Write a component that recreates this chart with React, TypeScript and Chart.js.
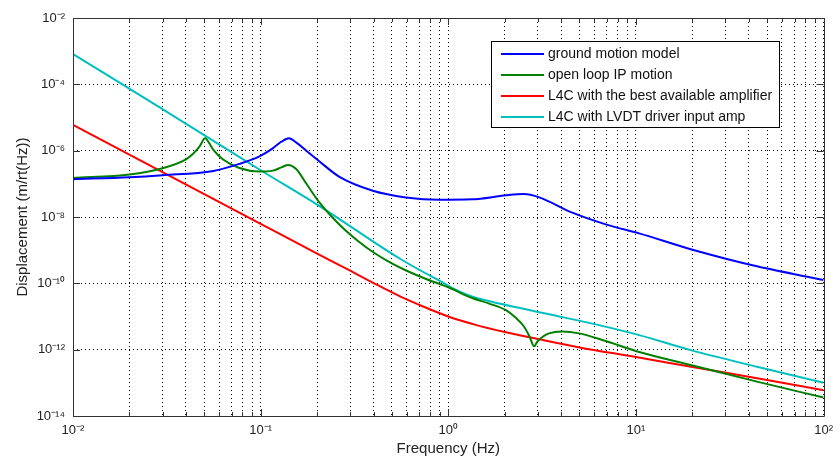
import React, { useEffect, useRef } from "react";
import { Chart, registerables } from "chart.js";

Chart.register(...registerables);

// ---------- data ----------
const seriesLabels = [
  "ground motion model",
  "open loop IP motion",
  "L4C with the best available amplifier",
  "L4C with LVDT driver input amp",
];
const seriesColors = ["#0000ff", "#008000", "#ff0000", "#00bfbf"];

const groundFreq = [0.01, 0.02, 0.03, 0.056, 0.077, 0.098, 0.116, 0.129, 0.1415, 0.155, 0.175, 0.206, 0.263, 0.396, 0.594, 0.895, 1.34, 2.03, 2.53, 3.05, 4.58, 6.9, 10.4, 19.8, 44.7, 100];
const groundVal = [1.38e-7, 1.58e-7, 1.82e-7, 2.45e-7, 4.0e-7, 6.6e-7, 1.17e-6, 1.86e-6, 2.35e-6, 1.74e-6, 1.0e-6, 4.7e-7, 1.62e-7, 6.2e-8, 3.9e-8, 3.3e-8, 3.4e-8, 4.5e-8, 4.9e-8, 3.9e-8, 1.35e-8, 6.0e-9, 3.2e-9, 1.05e-9, 3.2e-10, 1.26e-10];

const ipFreq = [0.01, 0.02, 0.03, 0.04, 0.0435, 0.0472, 0.0506, 0.053, 0.056, 0.0628, 0.077, 0.098, 0.116, 0.13, 0.14, 0.155, 0.175, 0.206, 0.24, 0.28, 0.33, 0.4, 0.5, 0.6, 0.75, 0.9, 1.0, 1.34, 1.65, 2.03, 2.29, 2.53, 2.7, 2.87, 2.98, 3.2, 3.44, 4.05, 4.97, 6.9, 10.4, 19.8, 44.7, 100];
const ipVal = [1.51e-7, 1.9e-7, 2.95e-7, 5.5e-7, 7.9e-7, 1.32e-6, 2.35e-6, 1.74e-6, 1.05e-6, 5.5e-7, 3.0e-7, 2.35e-7, 2.5e-7, 3.2e-7, 3.7e-7, 2.75e-7, 1.02e-7, 2.7e-8, 1.0e-8, 4.2e-9, 1.9e-9, 8.5e-10, 4.0e-10, 2.4e-10, 1.4e-10, 9.5e-11, 7.6e-11, 3.6e-11, 2.45e-11, 1.55e-11, 9.1e-12, 5.0e-12, 2.6e-12, 1.26e-12, 1.74e-12, 2.5e-12, 3.1e-12, 3.5e-12, 3.1e-12, 1.82e-12, 8.5e-13, 3.4e-13, 1.07e-13, 3.6e-14];

const bestAmpFreq = [0.01, 0.03, 0.1, 0.2, 0.3, 0.4, 0.55, 0.7, 1.0, 1.4, 2.0, 3.0, 5.0, 10, 20, 45, 100];
const bestAmpVal = [6.0e-6, 2.24e-7, 6.2e-9, 7.9e-10, 2.4e-10, 1.02e-10, 4.1e-11, 2.24e-11, 1.0e-11, 5.6e-12, 3.4e-12, 2.1e-12, 1.17e-12, 6.0e-13, 3.0e-13, 1.35e-13, 6.0e-14];

const lvdtFreq = [0.01, 0.03, 0.05, 0.1, 0.206, 0.55, 0.95, 1.15, 1.36, 1.87, 3.44, 6.35, 10.4, 19.8, 44.7, 100];
const lvdtVal = [8.2e-4, 1.78e-5, 2.95e-6, 2.57e-7, 2.14e-8, 5.6e-10, 1.0e-10, 5.6e-11, 3.9e-11, 2.45e-11, 1.17e-11, 5.5e-12, 2.75e-12, 9.5e-13, 3.0e-13, 1.0e-13];

const xTickValues = [0.01, 0.02, 0.03, 0.04, 0.05, 0.06, 0.07, 0.08, 0.09, 0.1, 0.2, 0.3, 0.4, 0.5, 0.6, 0.7, 0.8, 0.9, 1, 2, 3, 4, 5, 6, 7, 8, 9, 10, 20, 30, 40, 50, 60, 70, 80, 90, 100];
const yTickValues = [1e-14, 1e-12, 1e-10, 1e-8, 1e-6, 1e-4, 1e-2];

const xTitle = "Frequency (Hz)";
const yTitle = "Displacement (m/rt(Hz))";

// ---------- helpers ----------
const SUP: Record<string, string> = { "-": "\u207B", "0": "\u2070", "1": "\u00B9", "2": "\u00B2", "3": "\u00B3", "4": "\u2074", "5": "\u2075", "6": "\u2076", "7": "\u2077", "8": "\u2078", "9": "\u2079" };
function powLabel(v: number): string {
  const e = Math.log10(v);
  const r = Math.round(e);
  if (Math.abs(e - r) > 1e-6) return "";
  return "10" + String(r).split("").map((c) => SUP[c] || c).join("");
}
const FONT = "'Liberation Sans', Arial, sans-serif";

const framePlugin = {
  id: "frame",
  afterDatasetsDraw(chart: any) {
    const { ctx, chartArea: a, scales } = chart;
    ctx.save();
    ctx.strokeStyle = "#333";
    ctx.lineWidth = 1;
    ctx.beginPath();
    ctx.rect(Math.round(a.left) + 0.5, Math.round(a.top) + 0.5, Math.round(a.right - a.left), Math.round(a.bottom - a.top));
    ctx.stroke();
    // inward ticks
    ctx.beginPath();
    for (const v of xTickValues) {
      const x = Math.round(scales.x.getPixelForValue(v)) + 0.5;
      const len = powLabel(v) ? 7 : 4;
      ctx.moveTo(x, a.bottom);
      ctx.lineTo(x, a.bottom - len);
      ctx.moveTo(x, a.top);
      ctx.lineTo(x, a.top + len);
    }
    for (const v of yTickValues) {
      const y = Math.round(scales.y.getPixelForValue(v)) + 0.5;
      ctx.moveTo(a.left, y);
      ctx.lineTo(a.left + 7, y);
      ctx.moveTo(a.right, y);
      ctx.lineTo(a.right - 7, y);
    }
    ctx.stroke();
    ctx.restore();
  },
  afterDraw(chart: any) {
    const { ctx } = chart;
    const bx = 491.5, by = 41.5, bw = 288, bh = 86;
    ctx.save();
    ctx.fillStyle = "#fff";
    ctx.fillRect(bx, by, bw, bh);
    ctx.strokeStyle = "#000";
    ctx.lineWidth = 1;
    ctx.strokeRect(bx, by, bw, bh);
    ctx.font = "14px " + FONT;
    ctx.textBaseline = "middle";
    ctx.textAlign = "left";
    chart.data.datasets.forEach((ds: any, i: number) => {
      const y = 54 + i * 21;
      ctx.strokeStyle = ds.borderColor;
      ctx.lineWidth = 2;
      ctx.beginPath();
      ctx.moveTo(501, y);
      ctx.lineTo(544, y);
      ctx.stroke();
      ctx.fillStyle = "#111";
      ctx.fillText(ds.label, 548, y);
    });
    ctx.restore();
  },
};

function mk(freq: number[], val: number[]) {
  return freq.map((f, i) => ({ x: f, y: val[i] }));
}

export default function App() {
  const ref = useRef<HTMLCanvasElement>(null);
  useEffect(() => {
    if (!ref.current) return;
    const data = [mk(groundFreq, groundVal), mk(ipFreq, ipVal), mk(bestAmpFreq, bestAmpVal), mk(lvdtFreq, lvdtVal)];
    const chart = new Chart(ref.current, {
      type: "line",
      data: {
        datasets: data.map((d, i) => ({
          label: seriesLabels[i],
          data: d,
          borderColor: seriesColors[i],
          backgroundColor: seriesColors[i],
          borderWidth: 2,
          pointRadius: 0,
          fill: false,
          cubicInterpolationMode: "monotone" as const,
        })),
      },
      options: {
        animation: false,
        responsive: false,
        devicePixelRatio: 1,
        layout: { padding: { left: 0, right: 15, top: 18, bottom: 0 } },
        plugins: { legend: { display: false }, tooltip: { enabled: false } },
        scales: {
          x: {
            type: "logarithmic",
            min: 0.01,
            max: 100,
            afterBuildTicks: (s: any) => {
              s.ticks = xTickValues.map((v) => ({ value: v }));
            },
            afterFit: (s: any) => {
              s.height = 44;
            },
            ticks: {
              autoSkip: false,
              maxRotation: 0,
              padding: 7,
              color: "#222",
              font: { family: FONT, size: 13 },
              callback: (v: any) => powLabel(Number(v)),
            },
            grid: { color: "#000", lineWidth: 1, drawTicks: false },
            border: { display: false, dash: [1, 3] },
            title: { display: true, text: xTitle, color: "#222", font: { family: FONT, size: 15 }, padding: { top: 0, bottom: 2 } },
          },
          y: {
            type: "logarithmic",
            min: 1e-14,
            max: 1e-2,
            afterBuildTicks: (s: any) => {
              s.ticks = yTickValues.map((v) => ({ value: v }));
            },
            afterFit: (s: any) => {
              s.width = 73;
            },
            ticks: {
              autoSkip: false,
              padding: 8,
              color: "#222",
              font: { family: FONT, size: 13 },
              callback: (v: any) => powLabel(Number(v)),
            },
            grid: { color: "#000", lineWidth: 1, drawTicks: false },
            border: { display: false, dash: [1, 3] },
            title: { display: true, text: yTitle, color: "#222", font: { family: FONT, size: 15 }, padding: { top: 14, bottom: 0 } },
          },
        },
      },
      plugins: [framePlugin],
    });
    return () => chart.destroy();
  }, []);
  return (
    <div style={{ position: "absolute", left: 0, top: 0, width: 840, height: 460, background: "#fff" }}>
      <canvas ref={ref} width={840} height={460} style={{ display: "block" }} />
    </div>
  );
}
